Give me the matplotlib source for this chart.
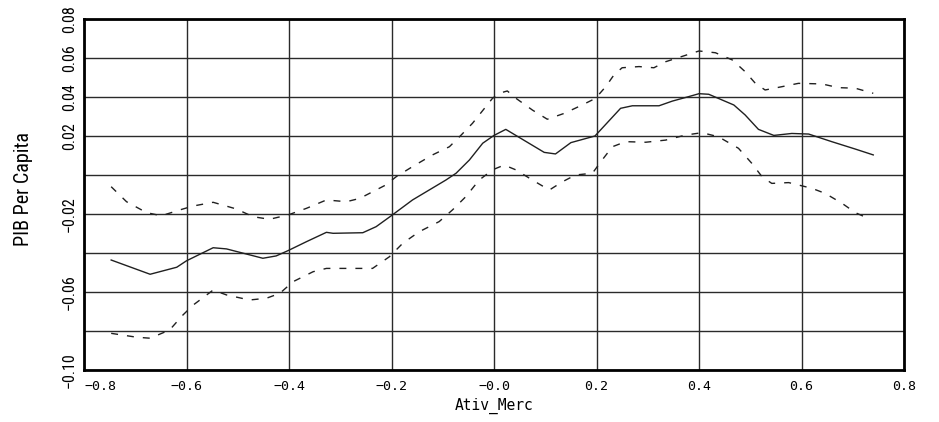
import matplotlib
matplotlib.use("Agg")
import matplotlib.pyplot as plt
from matplotlib import font_manager as fm

# Smoothed estimate of PIB per capita against Ativ_Merc, with its upper and lower bands
x_mid = [-0.747, -0.671, -0.619, -0.600, -0.548, -0.522, -0.451, -0.425, -0.402, -0.366,
         -0.327, -0.314, -0.256, -0.230, -0.201, -0.159, -0.094, -0.074, -0.048, -0.022,
         0.000, 0.023, 0.098, 0.120, 0.150, 0.197, 0.247, 0.270, 0.322, 0.348, 0.380,
         0.400, 0.419, 0.468, 0.490, 0.516, 0.546, 0.581, 0.614, 0.659, 0.705, 0.740]
y_mid = [-0.0436, -0.0509, -0.0473, -0.0440, -0.0373, -0.0379, -0.0427, -0.0415, -0.0388, -0.0342,
         -0.0294, -0.0299, -0.0296, -0.0265, -0.0210, -0.0128, -0.0026, 0.0009, 0.0077, 0.0163,
         0.0203, 0.0234, 0.0116, 0.0108, 0.0166, 0.0200, 0.0342, 0.0355, 0.0355, 0.0379, 0.0402,
         0.0417, 0.0414, 0.0359, 0.0308, 0.0234, 0.0203, 0.0213, 0.0210, 0.0171, 0.0133, 0.0103]

x_up = [-0.747, -0.717, -0.678, -0.649, -0.613, -0.587, -0.548, -0.503, -0.470, -0.438,
        -0.402, -0.366, -0.327, -0.288, -0.262, -0.211, -0.191, -0.159, -0.120, -0.087,
        -0.064, -0.042, -0.003, 0.010, 0.026, 0.043, 0.075, 0.104, 0.137, 0.172, 0.198,
        0.218, 0.234, 0.250, 0.283, 0.312, 0.335, 0.361, 0.400, 0.432, 0.465, 0.490,
        0.510, 0.529, 0.562, 0.594, 0.640, 0.672, 0.705, 0.740]
y_up = [-0.0060, -0.0137, -0.0193, -0.0209, -0.0179, -0.0159, -0.0140, -0.0174, -0.0214, -0.0227,
        -0.0205, -0.0171, -0.0128, -0.0137, -0.0120, -0.0051, -0.0009, 0.0043, 0.0103, 0.0145,
        0.0205, 0.0265, 0.0393, 0.0419, 0.0431, 0.0393, 0.0333, 0.0286, 0.0316, 0.0359, 0.0393,
        0.0453, 0.0513, 0.0550, 0.0556, 0.0550, 0.0581, 0.0603, 0.0636, 0.0627, 0.0590, 0.0530,
        0.0470, 0.0436, 0.0453, 0.0470, 0.0467, 0.0448, 0.0445, 0.0419]

x_lo = [-0.747, -0.697, -0.671, -0.633, -0.607, -0.587, -0.548, -0.522, -0.477, -0.444,
        -0.418, -0.392, -0.353, -0.327, -0.237, -0.204, -0.178, -0.146, -0.107, -0.081,
        -0.055, -0.029, -0.003, 0.004, 0.020, 0.043, 0.075, 0.108, 0.134, 0.159, 0.192,
        0.211, 0.231, 0.257, 0.296, 0.335, 0.374, 0.406, 0.438, 0.477, 0.503, 0.523,
        0.542, 0.575, 0.620, 0.646, 0.679, 0.705, 0.734]
y_lo = [-0.0812, -0.0832, -0.0837, -0.0795, -0.0718, -0.0667, -0.0590, -0.0615, -0.0641, -0.0632,
        -0.0607, -0.0547, -0.0496, -0.0479, -0.0479, -0.0419, -0.0350, -0.0291, -0.0239, -0.0179,
        -0.0111, -0.0026, 0.0026, 0.0034, 0.0051, 0.0026, -0.0026, -0.0077, -0.0034, 0.0000, 0.0009,
        0.0077, 0.0145, 0.0171, 0.0168, 0.0179, 0.0205, 0.0217, 0.0196, 0.0137, 0.0060, -0.0009,
        -0.0043, -0.0039, -0.0068, -0.0094, -0.0145, -0.0193, -0.0227]

x_ticks = [-0.8, -0.6, -0.4, -0.2, 0.0, 0.2, 0.4, 0.6, 0.8]
x_labels = ["\u22120.8", "\u22120.6", "\u22120.4", "\u22120.2", "\u22120.0",
            "0.2", "0.4", "0.6", "0.8"]
y_grid = [-0.10, -0.08, -0.06, -0.04, -0.02, 0.00, 0.02, 0.04, 0.06, 0.08]
y_ticks = [-0.10, -0.06, -0.02, 0.02, 0.04, 0.06, 0.08]
y_labels = ["\u22120.10", "\u22120.06", "\u22120.02", "0.02", "0.04", "0.06", "0.08"]

# pick a narrow face for the vertical-axis text
installed = {f.name for f in fm.fontManager.ttflist}
narrow_kw = {"family": ["DejaVu Sans"], "fontstretch": "condensed"}
for cand in ["Liberation Sans Narrow", "Roboto Condensed", "Open Sans Condensed", "Noto Sans Condensed"]:
    if cand in installed:
        narrow_kw = {"family": [cand, "DejaVu Sans"]}
        break

fig = plt.figure(figsize=(9.39, 4.22), dpi=100)
ax = fig.add_axes([84 / 939, 1 - 370 / 422, 820 / 939, 351 / 422])

# grid
for gx in x_ticks:
    ax.axvline(gx, color="#2a2a2a", lw=1.0, zorder=1)
for gy in y_grid:
    ax.axhline(gy, color="#2a2a2a", lw=1.0, zorder=1)

ax.plot(x_mid, y_mid, color="#202020", lw=1.0, zorder=3)
ax.plot(x_up, y_up, color="#202020", lw=1.0, dashes=(5, 6.5), zorder=3)
ax.plot(x_lo, y_lo, color="#202020", lw=1.0, dashes=(5, 6.5), zorder=3)

ax.set_xlim(-0.8, 0.8)
ax.set_ylim(-0.10, 0.08)

ax.set_xticks(x_ticks)
ax.set_xticklabels(x_labels, family="DejaVu Sans Mono", fontsize=9.5)
ax.set_yticks(y_ticks)
ax.set_yticklabels(y_labels, fontsize=11.5, rotation=90, va="center", **narrow_kw)
ax.tick_params(axis="both", length=0)
ax.tick_params(axis="x", pad=7)
ax.tick_params(axis="y", pad=5)
ax.get_xticklabels()[0].set_ha("left")

for sp in ax.spines.values():
    sp.set_linewidth(2.0)
    sp.set_color("black")

ax.set_xlabel("Ativ_Merc", family="DejaVu Sans Mono", fontsize=10.5, labelpad=4)
ax.set_ylabel("PIB Per Capita", fontsize=14.5, **narrow_kw)
ax.yaxis.set_label_coords(-0.062, 0.516)

fig.savefig("out.png", dpi=100)
